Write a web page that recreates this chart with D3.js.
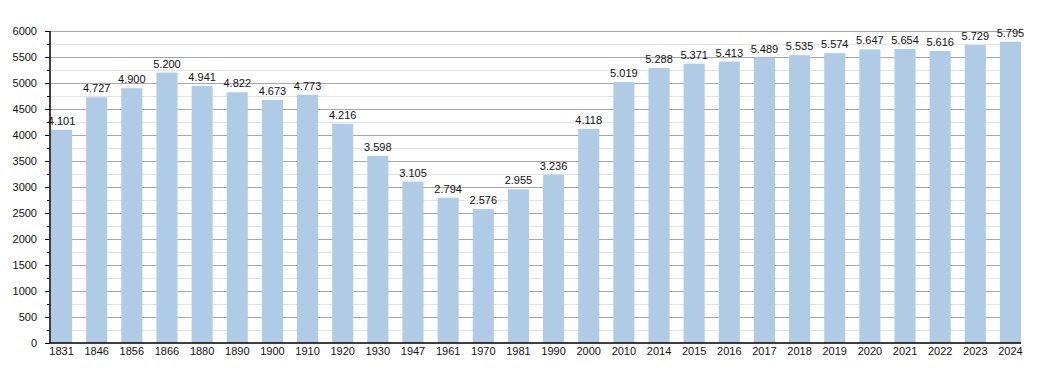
<!DOCTYPE html>
<html><head><meta charset="utf-8">
<script src="https://cdn.jsdelivr.net/npm/d3@7"></script>
<style>body{margin:0;background:#fff}text{font-family:"Liberation Sans",Arial,sans-serif}</style>
</head><body><svg id="c" width="1050" height="373"></svg>
<script>
const years = ["1831","1846","1856","1866","1880","1890","1900","1910","1920","1930","1947","1961","1970","1981","1990","2000","2010","2014","2015","2016","2017","2018","2019","2020","2021","2022","2023","2024"];
const population = [4101,4727,4900,5200,4941,4822,4673,4773,4216,3598,3105,2794,2576,2955,3236,4118,5019,5288,5371,5413,5489,5535,5574,5647,5654,5616,5729,5795];
const yMajorTicks = [0,500,1000,1500,2000,2500,3000,3500,4000,4500,5000,5500,6000];
const yMinorTicks = [250,750,1250,1750,2250,2750,3250,3750,4250,4750,5250,5750];

(function(){
const svg = d3.select("#c");
const mL = 50, mR = 1021, mT = 31, mB = 343;
const x = d3.scaleBand().domain(years).range([mL + 1, mR]).paddingInner(0.4).paddingOuter(0);
const y = d3.scaleLinear().domain([0, 6000]).range([mB, mT]);
const fmt = d3.formatLocale({decimal: ",", thousands: ".", grouping: [3], currency: ["", ""]}).format(",");

svg.append("g").selectAll("line").data(yMinorTicks).join("line")
  .attr("x1", mL).attr("x2", mR)
  .attr("y1", d => Math.round(y(d)) + 0.5).attr("y2", d => Math.round(y(d)) + 0.5)
  .attr("stroke", "#e4e4e4").attr("stroke-width", 1);
svg.append("g").selectAll("line").data(yMajorTicks.filter(d => d > 0)).join("line")
  .attr("x1", mL).attr("x2", mR)
  .attr("y1", d => Math.round(y(d)) + 0.5).attr("y2", d => Math.round(y(d)) + 0.5)
  .attr("stroke", "#a8a8a8").attr("stroke-width", 1);

svg.append("g").selectAll("rect").data(years).join("rect")
  .attr("x", d => x(d)).attr("width", x.bandwidth())
  .attr("y", (d, i) => y(population[i])).attr("height", (d, i) => mB - y(population[i]))
  .attr("fill", "#b0cbe6");

svg.append("g").selectAll("text").data(years).join("text")
  .attr("x", d => x(d) + x.bandwidth() / 2)
  .attr("y", (d, i) => y(population[i]) - 5)
  .attr("text-anchor", "middle").attr("font-size", 11).attr("fill", "#111")
  .text((d, i) => fmt(population[i]));

const yAxis = svg.append("g").attr("transform", `translate(${mL},0)`)
  .call(d3.axisLeft(y).tickValues(yMajorTicks).tickSize(5).tickPadding(8).tickFormat(d3.format("d")));
yAxis.select(".domain").remove();
yAxis.selectAll("text").attr("font-size", 11).attr("fill", "#111").attr("font-family", '"Liberation Sans",Arial,sans-serif');
yAxis.selectAll(".tick line").attr("stroke", "#000");
const yMinor = svg.append("g").attr("transform", `translate(${mL},0)`)
  .call(d3.axisLeft(y).tickValues(yMinorTicks).tickSize(3).tickFormat(""));
yMinor.select(".domain").remove();
yMinor.selectAll(".tick line").attr("stroke", "#000");
svg.append("line").attr("x1", mL).attr("x2", mL).attr("y1", mT).attr("y2", mB)
  .attr("stroke", "#000").attr("stroke-width", 1.5);

const xAxis = svg.append("g").attr("transform", `translate(0,${mB})`)
  .call(d3.axisBottom(x).tickSize(0).tickPadding(4));
xAxis.select(".domain").remove();
xAxis.selectAll("text").attr("font-size", 11).attr("fill", "#111").attr("font-family", '"Liberation Sans",Arial,sans-serif');
svg.append("line").attr("x1", mL).attr("x2", mR).attr("y1", mB).attr("y2", mB)
  .attr("stroke", "#000").attr("stroke-width", 1.5);
})();
</script></body></html>
